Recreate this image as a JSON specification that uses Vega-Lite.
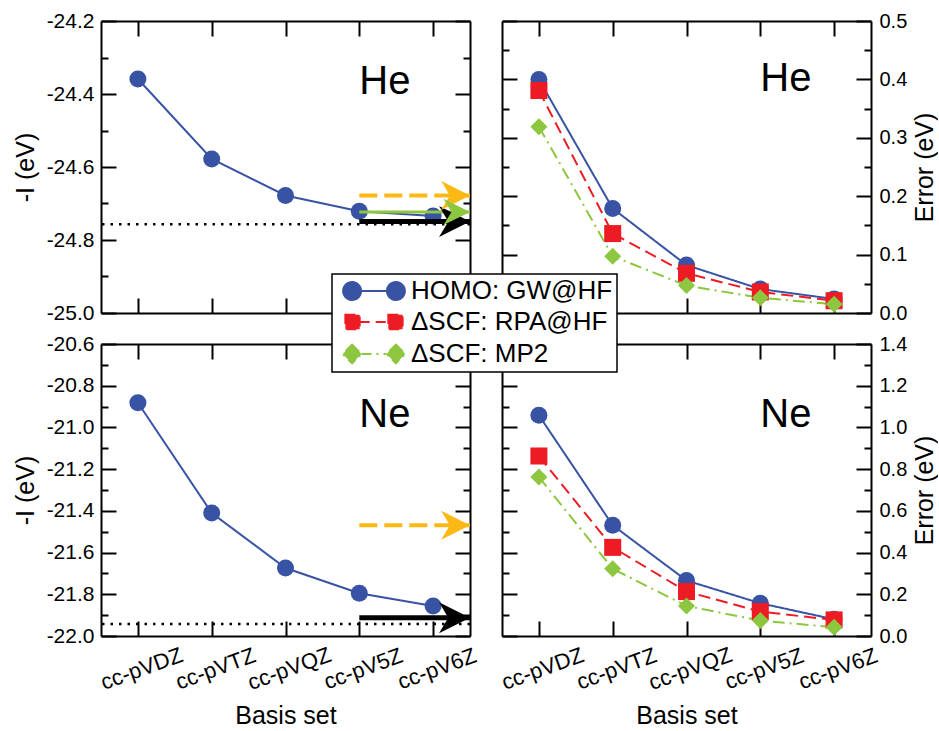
{
  "$schema": "https://vega.github.io/schema/vega-lite/v6.json",
  "padding": {"left": 13, "top": 10, "right": 0, "bottom": 0},
  "config": {
    "font": "Liberation Sans",
    "view": {"stroke": null},
    "axis": {"grid": false, "domainColor": "black", "domainWidth": 2, "tickColor": "black", "tickWidth": 2, "labelFontSize": 20, "labelColor": "black", "titleFontSize": 25, "titleFontWeight": "normal", "titleColor": "black", "labelOverlap": false, "labelBound": false, "labelFlush": false, "labelFont": "Liberation Sans", "titleFont": "Liberation Sans"},
    "text": {"font": "Liberation Sans"}
  },
  "datasets": {
    "ip": [
      {"atom": "He", "basis": "cc-pVDZ", "negI": -24.359},
      {"atom": "He", "basis": "cc-pVTZ", "negI": -24.578},
      {"atom": "He", "basis": "cc-pVQZ", "negI": -24.678},
      {"atom": "He", "basis": "cc-pV5Z", "negI": -24.721},
      {"atom": "He", "basis": "cc-pV6Z", "negI": -24.734},
      {"atom": "Ne", "basis": "cc-pVDZ", "negI": -20.882},
      {"atom": "Ne", "basis": "cc-pVTZ", "negI": -21.41},
      {"atom": "Ne", "basis": "cc-pVQZ", "negI": -21.674},
      {"atom": "Ne", "basis": "cc-pV5Z", "negI": -21.795},
      {"atom": "Ne", "basis": "cc-pV6Z", "negI": -21.856}
    ],
    "err": [
      {"atom": "He", "method": "HOMO: GW@HF", "basis": "cc-pVDZ", "error": 0.4},
      {"atom": "He", "method": "HOMO: GW@HF", "basis": "cc-pVTZ", "error": 0.179},
      {"atom": "He", "method": "HOMO: GW@HF", "basis": "cc-pVQZ", "error": 0.082},
      {"atom": "He", "method": "HOMO: GW@HF", "basis": "cc-pV5Z", "error": 0.041},
      {"atom": "He", "method": "HOMO: GW@HF", "basis": "cc-pV6Z", "error": 0.024},
      {"atom": "He", "method": "ΔSCF: RPA@HF", "basis": "cc-pVDZ", "error": 0.381},
      {"atom": "He", "method": "ΔSCF: RPA@HF", "basis": "cc-pVTZ", "error": 0.136},
      {"atom": "He", "method": "ΔSCF: RPA@HF", "basis": "cc-pVQZ", "error": 0.068},
      {"atom": "He", "method": "ΔSCF: RPA@HF", "basis": "cc-pV5Z", "error": 0.036},
      {"atom": "He", "method": "ΔSCF: RPA@HF", "basis": "cc-pV6Z", "error": 0.021},
      {"atom": "He", "method": "ΔSCF: MP2", "basis": "cc-pVDZ", "error": 0.319},
      {"atom": "He", "method": "ΔSCF: MP2", "basis": "cc-pVTZ", "error": 0.097},
      {"atom": "He", "method": "ΔSCF: MP2", "basis": "cc-pVQZ", "error": 0.047},
      {"atom": "He", "method": "ΔSCF: MP2", "basis": "cc-pV5Z", "error": 0.026},
      {"atom": "He", "method": "ΔSCF: MP2", "basis": "cc-pV6Z", "error": 0.015},
      {"atom": "Ne", "method": "HOMO: GW@HF", "basis": "cc-pVDZ", "error": 1.058},
      {"atom": "Ne", "method": "HOMO: GW@HF", "basis": "cc-pVTZ", "error": 0.531},
      {"atom": "Ne", "method": "HOMO: GW@HF", "basis": "cc-pVQZ", "error": 0.266},
      {"atom": "Ne", "method": "HOMO: GW@HF", "basis": "cc-pV5Z", "error": 0.157},
      {"atom": "Ne", "method": "HOMO: GW@HF", "basis": "cc-pV6Z", "error": 0.08},
      {"atom": "Ne", "method": "ΔSCF: RPA@HF", "basis": "cc-pVDZ", "error": 0.863},
      {"atom": "Ne", "method": "ΔSCF: RPA@HF", "basis": "cc-pVTZ", "error": 0.425},
      {"atom": "Ne", "method": "ΔSCF: RPA@HF", "basis": "cc-pVQZ", "error": 0.213},
      {"atom": "Ne", "method": "ΔSCF: RPA@HF", "basis": "cc-pV5Z", "error": 0.117},
      {"atom": "Ne", "method": "ΔSCF: RPA@HF", "basis": "cc-pV6Z", "error": 0.077},
      {"atom": "Ne", "method": "ΔSCF: MP2", "basis": "cc-pVDZ", "error": 0.762},
      {"atom": "Ne", "method": "ΔSCF: MP2", "basis": "cc-pVTZ", "error": 0.322},
      {"atom": "Ne", "method": "ΔSCF: MP2", "basis": "cc-pVQZ", "error": 0.144},
      {"atom": "Ne", "method": "ΔSCF: MP2", "basis": "cc-pV5Z", "error": 0.074},
      {"atom": "Ne", "method": "ΔSCF: MP2", "basis": "cc-pV6Z", "error": 0.042}
    ],
    "refs": [
      {"atom": "He", "ref": "limit", "value": -24.757},
      {"atom": "He", "ref": "exp", "value": -24.749},
      {"atom": "He", "ref": "refA", "value": -24.678},
      {"atom": "He", "ref": "refB", "value": -24.723},
      {"atom": "Ne", "ref": "limit", "value": -21.942},
      {"atom": "Ne", "ref": "exp", "value": -21.912},
      {"atom": "Ne", "ref": "refA", "value": -21.469}
    ]
  },
  "columns": 2,
  "spacing": {"row": 10, "column": 19},
  "resolve": {"scale": {"shape": "independent", "strokeDash": "independent", "stroke": "independent", "fill": "independent", "strokeWidth": "independent", "size": "independent"}},
  "concat": [
    {
      "width": 369, "height": 292,
      "resolve": {"axis": {"x": "independent", "y": "independent"}},
      "layer": [
        {"data": {"name": "refs"}, "transform": [{"filter": "datum.atom=='He' && datum.ref=='limit'"}],
         "mark": {"type": "rule", "color": "black", "strokeWidth": 2.5, "strokeDash": [2.5, 6]},
         "encoding": {"y": {"field": "value", "type": "quantitative", "scale": {"domain": [-25, -24.2], "nice": false, "zero": false}, "axis": null}}},
        {"data": {"name": "ip"}, "transform": [{"filter": "datum.atom=='He'"}],
         "mark": {"type": "line", "color": "#3953A4", "strokeWidth": 2},
         "encoding": {
           "x": {"field": "basis", "type": "ordinal", "sort": ["cc-pVDZ", "cc-pVTZ", "cc-pVQZ", "cc-pV5Z", "cc-pV6Z"], "scale": {"type": "point", "padding": 0.5, "domain": ["cc-pVDZ", "cc-pVTZ", "cc-pVQZ", "cc-pV5Z", "cc-pV6Z"]}, "axis": {"orient": "bottom", "labels": false, "title": null, "tickSize": -15}},
           "y": {"field": "negI", "type": "quantitative", "scale": {"domain": [-25, -24.2], "nice": false, "zero": false},
                 "axis": {"orient": "left", "values": [-25, -24.9, -24.8, -24.7, -24.6, -24.5, -24.4, -24.3, -24.2], "title": "-I  (eV)", "titlePadding": 8, "labelPadding": 22, "labelFontSize": 21,
                          "labelExpr": "round(datum.value*10)%2==0 ? replace(format(datum.value,'.1f'),'\u2212','-') : ''",
                          "tickSize": {"condition": {"test": "round(datum.value*10)%2==0", "value": -15}, "value": -7}}}}},
        {"data": {"name": "ip"}, "transform": [{"filter": "datum.atom=='He'"}],
         "mark": {"type": "point", "shape": "circle", "filled": true, "size": 290, "color": "#3953A4", "opacity": 1},
         "encoding": {
           "x": {"field": "basis", "type": "ordinal", "scale": {"type": "point", "padding": 0.5, "domain": ["cc-pVDZ", "cc-pVTZ", "cc-pVQZ", "cc-pV5Z", "cc-pV6Z"]}, "axis": {"orient": "top", "labels": false, "title": null, "tickSize": -15}},
           "y": {"field": "negI", "type": "quantitative", "scale": {"domain": [-25, -24.2], "nice": false, "zero": false},
                 "axis": {"orient": "right", "values": [-25, -24.9, -24.8, -24.7, -24.6, -24.5, -24.4, -24.3, -24.2], "labels": false, "title": null,
                          "tickSize": {"condition": {"test": "round(datum.value*10)%2==0", "value": -15}, "value": -7}}}}},
        {"data": {"name": "refs"}, "transform": [{"filter": "datum.atom=='He' && datum.ref!='limit'"}],
         "mark": {"type": "rule"},
         "encoding": {
           "x": {"datum": "cc-pV5Z", "type": "ordinal", "scale": {"type": "point", "padding": 0.5, "domain": ["cc-pVDZ", "cc-pVTZ", "cc-pVQZ", "cc-pV5Z", "cc-pV6Z"]}, "axis": null},
           "x2": {"value": "width"},
           "y": {"field": "value", "type": "quantitative", "scale": {"domain": [-25, -24.2], "nice": false, "zero": false}, "axis": null},
           "stroke": {"field": "ref", "type": "nominal", "scale": {"domain": ["exp", "refA", "refB"], "range": ["black", "#FDB913", "#8DC63F"]}, "legend": null},
           "strokeWidth": {"field": "ref", "type": "ordinal", "scale": {"domain": ["exp", "refA", "refB"], "range": [5, 3, 4]}, "legend": null},
           "strokeDash": {"field": "ref", "type": "nominal", "scale": {"domain": ["exp", "refA", "refB"], "range": [[1, 0], [18, 7], [1, 0]]}, "legend": null}}},
        {"data": {"name": "refs"}, "transform": [{"filter": "datum.atom=='He' && datum.ref!='limit'"}],
         "mark": {"type": "point", "shape": "M0,0 L-2,-1 L-1.4,0 L-2,1 Z", "filled": true, "opacity": 1, "strokeWidth": 0},
         "encoding": {
           "x": {"value": "width"},
           "y": {"field": "value", "type": "quantitative", "scale": {"domain": [-25, -24.2], "nice": false, "zero": false}, "axis": null},
           "fill": {"field": "ref", "type": "nominal", "scale": {"domain": ["exp", "refA", "refB"], "range": ["black", "#FDB913", "#8DC63F"]}, "legend": null},
           "size": {"field": "ref", "type": "ordinal", "scale": {"domain": ["exp", "refA", "refB"], "range": [960, 700, 700]}, "legend": null}}},
        {"data": {"values": [{"atom": "He"}]},
         "mark": {"type": "text", "fontSize": 40, "align": "left", "baseline": "alphabetic", "color": "black"},
         "encoding": {
           "x": {"datum": "cc-pV5Z", "type": "ordinal", "scale": {"type": "point", "padding": 0.5, "domain": ["cc-pVDZ", "cc-pVTZ", "cc-pVQZ", "cc-pV5Z", "cc-pV6Z"]}, "axis": null},
           "y": {"datum": -24.4, "type": "quantitative", "scale": {"domain": [-25, -24.2], "nice": false, "zero": false}, "axis": null},
           "text": {"field": "atom"}}}
      ]
    },
    {
      "width": 369, "height": 292,
      "resolve": {"axis": {"x": "independent", "y": "independent"}},
      "layer": [
        {"data": {"name": "err"}, "transform": [{"filter": "datum.atom=='He'"}],
         "mark": {"type": "line", "strokeWidth": 2},
         "encoding": {
           "x": {"field": "basis", "type": "ordinal", "sort": ["cc-pVDZ", "cc-pVTZ", "cc-pVQZ", "cc-pV5Z", "cc-pV6Z"], "scale": {"type": "point", "padding": 0.5, "domain": ["cc-pVDZ", "cc-pVTZ", "cc-pVQZ", "cc-pV5Z", "cc-pV6Z"]}, "axis": {"orient": "bottom", "labels": false, "title": null, "tickSize": -15}},
           "y": {"field": "error", "type": "quantitative", "scale": {"domain": [0, 0.5], "nice": false, "zero": false},
                 "axis": {"orient": "right", "values": [0, 0.05, 0.1, 0.15, 0.2, 0.25, 0.3, 0.35, 0.4, 0.45, 0.5], "title": "Error  (eV)", "titleAngle": 270, "titleBaseline": "top", "titlePadding": 6, "labelPadding": 23,
                          "labelExpr": "round(datum.value*100)%10==0 ? format(datum.value,'.1f') : ''",
                          "tickSize": {"condition": {"test": "round(datum.value*100)%10==0", "value": -15}, "value": -7}}},
           "color": {"field": "method", "type": "nominal", "scale": {"domain": ["HOMO: GW@HF", "ΔSCF: RPA@HF", "ΔSCF: MP2"], "range": ["#3953A4", "#ED1C24", "#8DC63F"]},
                     "legend": {"title": null, "orient": "none", "legendX": 231, "legendY": 253, "padding": 4, "symbolOffset": 25, "labelOffset": 24, "rowPadding": 5, "labelFontSize": 26, "labelFont": "Liberation Sans", "labelColor": "black", "labelLimit": 0, "symbolSize": 334, "strokeColor": "black", "fillColor": "white", "cornerRadius": 0,
                                "encode": {
                                  "legend": {"update": {"strokeWidth": {"value": 1.5}}},
                                  "symbols": {"update": {
                                    "shape": {"signal": "datum.value == 'HOMO: GW@HF' ? 'M-3.45,0 A1,1 0 1,0 -1.45,0 A1,1 0 1,0 -3.45,0 Z M1.45,0 A1,1 0 1,0 3.45,0 A1,1 0 1,0 1.45,0 Z M-1.45,0 L1.45,0' : datum.value == 'ΔSCF: RPA@HF' ? 'M-3.2,-0.8 L-1.6,-0.8 L-1.6,0.8 L-3.2,0.8 Z M1.6,-0.8 L3.2,-0.8 L3.2,0.8 L1.6,0.8 Z M-1.6,0 L1.6,0' : 'M-2.45,-1.05 L-1.4,0 L-2.45,1.05 L-3.5,0 Z M2.45,-1.05 L3.5,0 L2.45,1.05 L1.4,0 Z M-1.4,0 L1.4,0'"},
                                    "strokeDash": {"signal": "datum.value == 'HOMO: GW@HF' ? [1,0] : datum.value == 'ΔSCF: RPA@HF' ? [10,6] : [10,5,2,5]"},
                                    "fill": {"scale": "color", "field": "value"},
                                    "stroke": {"scale": "color", "field": "value"},
                                    "strokeWidth": {"value": 2},
                                    "size": {"value": 320},
                                    "opacity": {"value": 1}}}}}},
           "strokeDash": {"field": "method", "type": "nominal", "scale": {"domain": ["HOMO: GW@HF", "ΔSCF: RPA@HF", "ΔSCF: MP2"], "range": [[1, 0], [12, 6], [12, 5, 2, 5]]}, "legend": null}}},
        {"data": {"name": "err"}, "transform": [{"filter": "datum.atom=='He'"}],
         "mark": {"type": "point", "filled": true, "size": 290, "opacity": 1},
         "encoding": {
           "x": {"field": "basis", "type": "ordinal", "scale": {"type": "point", "padding": 0.5, "domain": ["cc-pVDZ", "cc-pVTZ", "cc-pVQZ", "cc-pV5Z", "cc-pV6Z"]}, "axis": {"orient": "top", "labels": false, "title": null, "tickSize": -15}},
           "y": {"field": "error", "type": "quantitative", "scale": {"domain": [0, 0.5], "nice": false, "zero": false},
                 "axis": {"orient": "left", "values": [0, 0.05, 0.1, 0.15, 0.2, 0.25, 0.3, 0.35, 0.4, 0.45, 0.5], "labels": false, "title": null,
                          "tickSize": {"condition": {"test": "round(datum.value*100)%10==0", "value": -15}, "value": -7}}},
           "color": {"field": "method", "type": "nominal", "scale": {"domain": ["HOMO: GW@HF", "ΔSCF: RPA@HF", "ΔSCF: MP2"], "range": ["#3953A4", "#ED1C24", "#8DC63F"]}, "legend": null},
           "shape": {"field": "method", "type": "nominal", "scale": {"domain": ["HOMO: GW@HF", "ΔSCF: RPA@HF", "ΔSCF: MP2"], "range": ["circle", "square", "diamond"]}, "legend": null}}},
        {"data": {"values": [{"atom": "He"}]},
         "mark": {"type": "text", "fontSize": 40, "align": "left", "baseline": "alphabetic", "color": "black"},
         "encoding": {
           "x": {"datum": "cc-pV5Z", "type": "ordinal", "scale": {"type": "point", "padding": 0.5, "domain": ["cc-pVDZ", "cc-pVTZ", "cc-pVQZ", "cc-pV5Z", "cc-pV6Z"]}, "axis": null},
           "y": {"datum": 0.38, "type": "quantitative", "scale": {"domain": [0, 0.5], "nice": false, "zero": false}, "axis": null},
           "text": {"field": "atom"}}}
      ]
    },
    {
      "width": 369, "height": 292,
      "resolve": {"axis": {"x": "independent", "y": "independent"}},
      "layer": [
        {"data": {"name": "refs"}, "transform": [{"filter": "datum.atom=='Ne' && datum.ref=='limit'"}],
         "mark": {"type": "rule", "color": "black", "strokeWidth": 2.5, "strokeDash": [2.5, 6]},
         "encoding": {"y": {"field": "value", "type": "quantitative", "scale": {"domain": [-22, -20.6], "nice": false, "zero": false}, "axis": null}}},
        {"data": {"name": "ip"}, "transform": [{"filter": "datum.atom=='Ne'"}],
         "mark": {"type": "line", "color": "#3953A4", "strokeWidth": 2},
         "encoding": {
           "x": {"field": "basis", "type": "ordinal", "sort": ["cc-pVDZ", "cc-pVTZ", "cc-pVQZ", "cc-pV5Z", "cc-pV6Z"], "scale": {"type": "point", "padding": 0.5, "domain": ["cc-pVDZ", "cc-pVTZ", "cc-pVQZ", "cc-pV5Z", "cc-pV6Z"]},
                 "axis": {"orient": "bottom", "title": "Basis set", "tickSize": -15, "labelAngle": -20, "labelAlign": "center", "labelBaseline": "top", "labelPadding": 38, "labelFontSize": 22, "titlePadding": 10}},
           "y": {"field": "negI", "type": "quantitative", "scale": {"domain": [-22, -20.6], "nice": false, "zero": false},
                 "axis": {"orient": "left", "values": [-22, -21.9, -21.8, -21.7, -21.6, -21.5, -21.4, -21.3, -21.2, -21.1, -21, -20.9, -20.8, -20.7, -20.6], "title": "-I (eV)", "titlePadding": 8, "labelPadding": 22, "labelFontSize": 21,
                          "labelExpr": "round(datum.value*10)%2==0 ? replace(format(datum.value,'.1f'),'\u2212','-') : ''",
                          "tickSize": {"condition": {"test": "round(datum.value*10)%2==0", "value": -15}, "value": -7}}}}},
        {"data": {"name": "ip"}, "transform": [{"filter": "datum.atom=='Ne'"}],
         "mark": {"type": "point", "shape": "circle", "filled": true, "size": 290, "color": "#3953A4", "opacity": 1},
         "encoding": {
           "x": {"field": "basis", "type": "ordinal", "scale": {"type": "point", "padding": 0.5, "domain": ["cc-pVDZ", "cc-pVTZ", "cc-pVQZ", "cc-pV5Z", "cc-pV6Z"]}, "axis": {"orient": "top", "labels": false, "title": null, "tickSize": -15}},
           "y": {"field": "negI", "type": "quantitative", "scale": {"domain": [-22, -20.6], "nice": false, "zero": false},
                 "axis": {"orient": "right", "values": [-22, -21.9, -21.8, -21.7, -21.6, -21.5, -21.4, -21.3, -21.2, -21.1, -21, -20.9, -20.8, -20.7, -20.6], "labels": false, "title": null,
                          "tickSize": {"condition": {"test": "round(datum.value*10)%2==0", "value": -15}, "value": -7}}}}},
        {"data": {"name": "refs"}, "transform": [{"filter": "datum.atom=='Ne' && datum.ref!='limit'"}],
         "mark": {"type": "rule"},
         "encoding": {
           "x": {"datum": "cc-pV5Z", "type": "ordinal", "scale": {"type": "point", "padding": 0.5, "domain": ["cc-pVDZ", "cc-pVTZ", "cc-pVQZ", "cc-pV5Z", "cc-pV6Z"]}, "axis": null},
           "x2": {"value": "width"},
           "y": {"field": "value", "type": "quantitative", "scale": {"domain": [-22, -20.6], "nice": false, "zero": false}, "axis": null},
           "stroke": {"field": "ref", "type": "nominal", "scale": {"domain": ["exp", "refA", "refB"], "range": ["black", "#FDB913", "#8DC63F"]}, "legend": null},
           "strokeWidth": {"field": "ref", "type": "ordinal", "scale": {"domain": ["exp", "refA", "refB"], "range": [5, 3, 4]}, "legend": null},
           "strokeDash": {"field": "ref", "type": "nominal", "scale": {"domain": ["exp", "refA", "refB"], "range": [[1, 0], [18, 7], [1, 0]]}, "legend": null}}},
        {"data": {"name": "refs"}, "transform": [{"filter": "datum.atom=='Ne' && datum.ref!='limit'"}],
         "mark": {"type": "point", "shape": "M0,0 L-2,-1 L-1.4,0 L-2,1 Z", "filled": true, "opacity": 1, "strokeWidth": 0},
         "encoding": {
           "x": {"value": "width"},
           "y": {"field": "value", "type": "quantitative", "scale": {"domain": [-22, -20.6], "nice": false, "zero": false}, "axis": null},
           "fill": {"field": "ref", "type": "nominal", "scale": {"domain": ["exp", "refA", "refB"], "range": ["black", "#FDB913", "#8DC63F"]}, "legend": null},
           "size": {"field": "ref", "type": "ordinal", "scale": {"domain": ["exp", "refA", "refB"], "range": [960, 700, 700]}, "legend": null}}},
        {"data": {"values": [{"atom": "Ne"}]},
         "mark": {"type": "text", "fontSize": 40, "align": "left", "baseline": "alphabetic", "color": "black"},
         "encoding": {
           "x": {"datum": "cc-pV5Z", "type": "ordinal", "scale": {"type": "point", "padding": 0.5, "domain": ["cc-pVDZ", "cc-pVTZ", "cc-pVQZ", "cc-pV5Z", "cc-pV6Z"]}, "axis": null},
           "y": {"datum": -21.0, "type": "quantitative", "scale": {"domain": [-22, -20.6], "nice": false, "zero": false}, "axis": null},
           "text": {"field": "atom"}}}
      ]
    },
    {
      "width": 369, "height": 292,
      "resolve": {"axis": {"x": "independent", "y": "independent"}},
      "layer": [
        {"data": {"name": "err"}, "transform": [{"filter": "datum.atom=='Ne'"}],
         "mark": {"type": "line", "strokeWidth": 2},
         "encoding": {
           "x": {"field": "basis", "type": "ordinal", "sort": ["cc-pVDZ", "cc-pVTZ", "cc-pVQZ", "cc-pV5Z", "cc-pV6Z"], "scale": {"type": "point", "padding": 0.5, "domain": ["cc-pVDZ", "cc-pVTZ", "cc-pVQZ", "cc-pV5Z", "cc-pV6Z"]},
                 "axis": {"orient": "bottom", "title": "Basis set", "tickSize": -15, "labelAngle": -20, "labelAlign": "center", "labelBaseline": "top", "labelPadding": 38, "labelFontSize": 22, "titlePadding": 10}},
           "y": {"field": "error", "type": "quantitative", "scale": {"domain": [0, 1.4], "nice": false, "zero": false},
                 "axis": {"orient": "right", "values": [0, 0.1, 0.2, 0.3, 0.4, 0.5, 0.6, 0.7, 0.8, 0.9, 1, 1.1, 1.2, 1.3, 1.4], "title": "Error (eV)", "titleAngle": 270, "titleBaseline": "top", "titlePadding": 6, "labelPadding": 23,
                          "labelExpr": "round(datum.value*10)%2==0 ? format(datum.value,'.1f') : ''",
                          "tickSize": {"condition": {"test": "round(datum.value*10)%2==0", "value": -15}, "value": -7}}},
           "color": {"field": "method", "type": "nominal", "scale": {"domain": ["HOMO: GW@HF", "ΔSCF: RPA@HF", "ΔSCF: MP2"], "range": ["#3953A4", "#ED1C24", "#8DC63F"]}, "legend": null},
           "strokeDash": {"field": "method", "type": "nominal", "scale": {"domain": ["HOMO: GW@HF", "ΔSCF: RPA@HF", "ΔSCF: MP2"], "range": [[1, 0], [12, 6], [12, 5, 2, 5]]}, "legend": null}}},
        {"data": {"name": "err"}, "transform": [{"filter": "datum.atom=='Ne'"}],
         "mark": {"type": "point", "filled": true, "size": 290, "opacity": 1},
         "encoding": {
           "x": {"field": "basis", "type": "ordinal", "scale": {"type": "point", "padding": 0.5, "domain": ["cc-pVDZ", "cc-pVTZ", "cc-pVQZ", "cc-pV5Z", "cc-pV6Z"]}, "axis": {"orient": "top", "labels": false, "title": null, "tickSize": -15}},
           "y": {"field": "error", "type": "quantitative", "scale": {"domain": [0, 1.4], "nice": false, "zero": false},
                 "axis": {"orient": "left", "values": [0, 0.1, 0.2, 0.3, 0.4, 0.5, 0.6, 0.7, 0.8, 0.9, 1, 1.1, 1.2, 1.3, 1.4], "labels": false, "title": null,
                          "tickSize": {"condition": {"test": "round(datum.value*10)%2==0", "value": -15}, "value": -7}}},
           "color": {"field": "method", "type": "nominal", "scale": {"domain": ["HOMO: GW@HF", "ΔSCF: RPA@HF", "ΔSCF: MP2"], "range": ["#3953A4", "#ED1C24", "#8DC63F"]}, "legend": null},
           "shape": {"field": "method", "type": "nominal", "scale": {"domain": ["HOMO: GW@HF", "ΔSCF: RPA@HF", "ΔSCF: MP2"], "range": ["circle", "square", "diamond"]}, "legend": null}}},
        {"data": {"values": [{"atom": "Ne"}]},
         "mark": {"type": "text", "fontSize": 40, "align": "left", "baseline": "alphabetic", "color": "black"},
         "encoding": {
           "x": {"datum": "cc-pV5Z", "type": "ordinal", "scale": {"type": "point", "padding": 0.5, "domain": ["cc-pVDZ", "cc-pVTZ", "cc-pVQZ", "cc-pV5Z", "cc-pV6Z"]}, "axis": null},
           "y": {"datum": 1.0, "type": "quantitative", "scale": {"domain": [0, 1.4], "nice": false, "zero": false}, "axis": null},
           "text": {"field": "atom"}}}
      ]
    }
  ]
}
